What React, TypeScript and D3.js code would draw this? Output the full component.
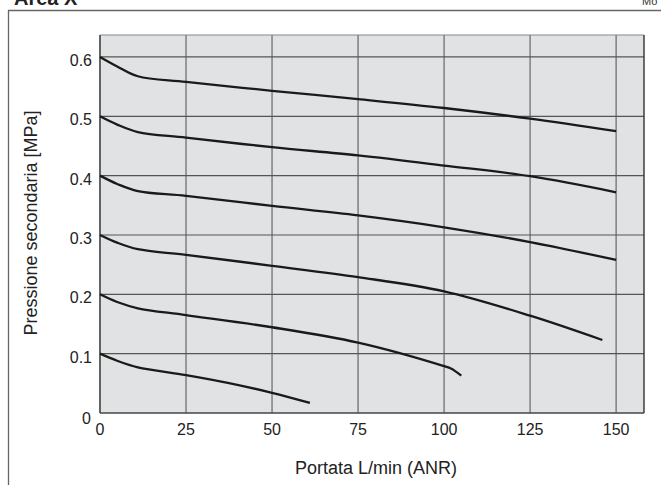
import React from "react";
import * as d3 from "d3";

const xTicks = [0, 25, 50, 75, 100, 125, 150];
const yTicks = [0, 0.1, 0.2, 0.3, 0.4, 0.5, 0.6];
const yTickLabels = ["0", "0.1", "0.2", "0.3", "0.4", "0.5", "0.6"];

const curve60: [number, number][] = [[0,0.6],[5,0.584],[11,0.5675],[25,0.558],[50,0.543],[75,0.529],[100,0.514],[125,0.496],[150,0.475]];
const curve50: [number, number][] = [[0,0.5],[5,0.486],[11,0.4735],[25,0.464],[50,0.448],[75,0.434],[100,0.417],[125,0.399],[150,0.372]];
const curve40: [number, number][] = [[0,0.4],[5,0.386],[11,0.374],[25,0.366],[50,0.349],[75,0.333],[100,0.313],[125,0.288],[150,0.258]];
const curve30: [number, number][] = [[0,0.3],[5,0.287],[11,0.276],[25,0.2665],[50,0.248],[75,0.229],[100,0.205],[125,0.164],[146,0.123]];
const curve20: [number, number][] = [[0,0.2],[5,0.187],[11,0.1765],[25,0.165],[50,0.1445],[75,0.1186],[100,0.079],[102,0.075],[105,0.063]];
const curve10: [number, number][] = [[0,0.1],[5,0.088],[11,0.077],[25,0.064],[37.5,0.0505],[50,0.034],[61,0.017]];
const curves = [curve60, curve50, curve40, curve30, curve20, curve10];

const FONT = "'Liberation Sans', Arial, Helvetica, sans-serif";

export default function App() {
  const x = d3.scaleLinear().domain([0, 158.1]).range([100, 644]);
  const y = d3.scaleLinear().domain([0, 0.637]).range([413, 35]);
  const line = d3
    .line<[number, number]>()
    .x((d) => x(d[0]))
    .y((d) => y(d[1]))
    .curve(d3.curveCatmullRom.alpha(0.5));
  const [x0, x1] = x.range();
  const [y0, y1] = y.range();
  return (
    <svg
      width={661}
      height={485}
      style={{ position: "absolute", left: 0, top: 0, background: "#fff" }}
      fontFamily={FONT}
    >
      <text x={14} y={5} fontSize={20} fontWeight="bold" fill="#222">Area X</text>
      <text x={642} y={5} fontSize={11} fill="#333">Mo</text>
      <path d="M8.5,485 V10.5 H661" fill="none" stroke="#666" strokeWidth={1.3} />
      <rect x={x0} y={y1} width={x1 - x0} height={y0 - y1} fill="#e1e2e4" />
      {xTicks.map((t) => (
        <line key={"vx" + t} x1={x(t)} x2={x(t)} y1={y1} y2={y0} stroke="#787878" strokeWidth={1.4} />
      ))}
      {yTicks.filter((t) => t > 0).map((t) => (
        <line key={"hy" + t} x1={x0} x2={x1} y1={y(t)} y2={y(t)} stroke="#555" strokeWidth={1.2} />
      ))}
      <line x1={x0} x2={x1} y1={y1} y2={y1} stroke="#888" strokeWidth={1.2} />
      <line x1={x1} x2={x1} y1={y1} y2={y0} stroke="#333" strokeWidth={1.4} />
      <line x1={x0} x2={x0} y1={y1} y2={y0} stroke="#555" strokeWidth={1.6} />
      <line x1={x0} x2={x1} y1={y0} y2={y0} stroke="#444" strokeWidth={1.6} />
      {curves.map((c, i) => (
        <path key={"c" + i} d={line(c) || ""} fill="none" stroke="#1a1a1a" strokeWidth={2.3} />
      ))}
      {yTicks.map((t, i) => (
        <text key={"yl" + t} x={t === 0 ? 91 : 92} y={y(t) + (t === 0 ? 11 : 9)} fontSize={16} textAnchor="end" fill="#222">
          {yTickLabels[i]}
        </text>
      ))}
      {xTicks.map((t) => (
        <text key={"xl" + t} x={x(t)} y={435} fontSize={16} textAnchor="middle" fill="#222">
          {t}
        </text>
      ))}
      <text x={376} y={474} fontSize={18} textAnchor="middle" fill="#222">Portata L/min (ANR)</text>
      <text transform="translate(37,223) rotate(-90)" fontSize={18} textAnchor="middle" fill="#222">
        Pressione secondaria [MPa]
      </text>
    </svg>
  );
}
